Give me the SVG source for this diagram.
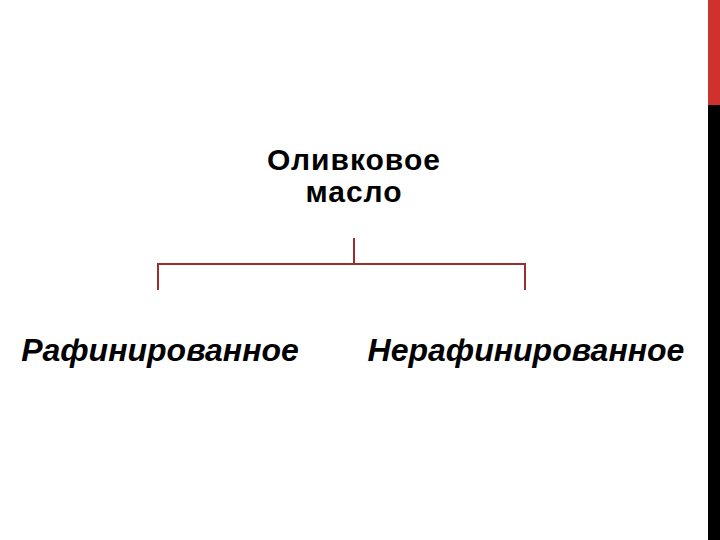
<svg xmlns="http://www.w3.org/2000/svg" width="720" height="540" viewBox="0 0 720 540">
<style>
.t{font-family:"Liberation Sans",Arial,sans-serif;fill:#000;font-weight:bold;text-anchor:middle}
.top{font-size:30px;letter-spacing:1px}
.bot{font-size:32px;font-style:italic}
.c{stroke:#9b2d2d;stroke-width:2;fill:none}
</style>
<rect width="720" height="540" fill="#fff"/>
<rect x="708" y="0" width="12" height="105" fill="#d0312d"/>
<rect x="708" y="105" width="12" height="435" fill="#000"/>
<g id="root"><text class="t top" x="354" y="170">Оливковое</text><text class="t top" x="354" y="202">масло</text></g>
<g id="left"><text class="t bot" x="160" y="361">Рафинированное</text></g>
<g id="right"><text class="t bot" x="526" y="361">Нерафинированное</text></g>
<g id="connectors">
<path class="c" d="M354 238V264M158 290V264H525V290"/>
</g>
</svg>
